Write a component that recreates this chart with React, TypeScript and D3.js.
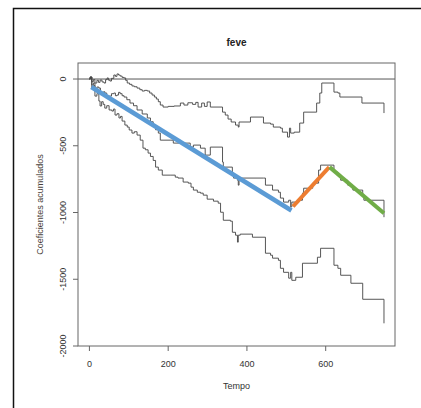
import React from 'react';
import * as d3 from 'd3';

// cumulative coefficients as [tempo, value] steps
const upperSteps: [number, number][] = [
  [0, 0], [2, 15], [6, -20], [10, -5], [14, -30], [19, -10], [23, -25], [27, -8], [32, -22], [37, -30],
  [41, -5], [45, 8], [48, -8], [52, -15], [56, 5], [62, 30], [66, 20], [70, 38], [74, 30], [78, 22],
  [83, 12], [88, 8], [92, -10], [96, -30], [102, -40], [108, -52], [114, -58], [121, -68], [128, -80],
  [134, -90], [140, -85], [147, -90], [153, -105], [159, -120], [165, -135], [170, -150], [175, -170],
  [180, -195], [187, -210], [200, -205], [215, -202], [231, -180], [240, -195], [250, -178], [262, -190],
  [270, -175], [276, -210], [285, -180], [292, -205], [299, -172], [307, -210], [338, -248], [345, -270],
  [352, -300], [360, -322], [371, -345], [378, -360], [380, -322], [409, -285], [439, -285], [442, -330],
  [460, -338], [467, -360], [485, -368], [490, -398], [503, -435], [508, -368], [511, -405], [520, -398],
  [534, -330], [544, -248], [577, -180], [585, -105], [590, -30], [621, -98], [631, -105], [636, -135],
  [692, -180], [748, -255],
];

const middleSteps: [number, number][] = [
  [0, 0], [2, 15], [6, -45], [10, -30], [14, -90], [19, -60], [24, -68], [28, -100], [32, -120], [36, -95],
  [39, -105], [44, -130], [50, -128], [56, -110], [62, -105], [66, -125], [70, -120], [74, -100], [78, -110],
  [83, -125], [88, -135], [95, -155], [103, -180], [112, -200], [121, -232], [134, -262], [147, -292],
  [155, -320], [162, -345], [168, -380], [175, -405], [180, -458], [205, -458], [213, -480], [248, -480],
  [256, -510], [264, -495], [282, -518], [294, -570], [307, -510], [338, -622], [340, -660], [363, -705],
  [366, -742], [376, -758], [378, -795], [380, -742], [442, -742], [447, -795], [465, -832], [480, -848],
  [485, -892], [493, -922], [506, -908], [511, -958], [514, -922], [529, -908], [541, -855], [544, -818],
  [562, -818], [567, -780], [582, -682], [587, -645], [621, -698], [631, -720], [638, -758], [656, -795],
  [669, -832], [694, -870], [697, -908], [748, -1035],
];

const lowerSteps: [number, number][] = [
  [0, 0], [2, 15], [6, -68], [10, -50], [14, -128], [19, -110], [24, -165], [27, -202], [31, -170], [35, -190],
  [39, -218], [44, -200], [50, -232], [57, -240], [61, -225], [65, -270], [70, -260], [75, -292], [79, -280],
  [83, -315], [90, -345], [96, -360], [101, -382], [108, -405], [114, -395], [121, -420], [129, -458],
  [136, -518], [142, -530], [149, -555], [155, -580], [162, -610], [168, -660], [175, -682], [185, -720],
  [205, -720], [218, -735], [225, -742], [238, -772], [251, -780], [258, -810], [264, -832], [274, -848],
  [282, -855], [289, -870], [299, -900], [315, -915], [327, -930], [333, -998], [340, -1058], [358, -1065],
  [363, -1148], [371, -1170], [376, -1222], [378, -1170], [383, -1162], [414, -1185], [447, -1305],
  [460, -1320], [465, -1342], [480, -1358], [485, -1418], [493, -1448], [506, -1492], [511, -1448],
  [514, -1508], [524, -1485], [541, -1380], [579, -1335], [587, -1268], [621, -1395], [631, -1418],
  [638, -1470], [664, -1530], [694, -1650], [748, -1830],
];

// fitted segments
const blueSegment: [number, number][] = [[5, -60], [513, -985]];
const orangeSegment: [number, number][] = [[517, -955], [609, -660]];
const greenSegment: [number, number][] = [[610, -660], [748, -1005]];

const xTicks = [0, 200, 400, 600];
const yTicks = [0, -500, -1000, -1500, -2000];

export default function App() {
  const left = 78, right = 395, top = 63, bottom = 346;
  const x = d3.scaleLinear().domain([-29, 776]).range([left, right]);
  const y = d3.scaleLinear().domain([-2000, 120]).range([bottom, top]);

  const stepLine = d3.line<[number, number]>()
    .x(d => x(d[0]))
    .y(d => y(d[1]))
    .curve(d3.curveStepAfter);
  const straight = d3.line<[number, number]>()
    .x(d => x(d[0]))
    .y(d => y(d[1]));

  const font = 'Liberation Sans, Arial, sans-serif';

  return (
    <svg width={421} height={408} style={{position: 'absolute', left: 0, top: 0, background: 'white'}}>
      <rect x={13.5} y={8.5} width={440} height={440} fill="none" stroke="#111" strokeWidth={1.5}/>
      <text x={(left + right) / 2} y={46} textAnchor="middle" fontFamily={font} fontWeight="bold" fontSize={10} fill="#222">feve</text>

      {/* zero line */}
      <line x1={left} x2={right} y1={y(0)} y2={y(0)} stroke="#555" strokeWidth={1}/>

      {[upperSteps, middleSteps, lowerSteps].map((s, i) => (
        <path key={i} d={stepLine(s) || ''} fill="none" stroke="#444" strokeWidth={0.9}/>
      ))}

      <path d={straight(blueSegment) || ''} stroke="#5B9BD5" strokeWidth={4.5} fill="none"/>
      <path d={straight(orangeSegment) || ''} stroke="#ED7D31" strokeWidth={4} fill="none"/>
      <path d={straight(greenSegment) || ''} stroke="#70AD47" strokeWidth={4} fill="none"/>

      <rect x={left} y={top} width={right - left} height={bottom - top} fill="none" stroke="#666" strokeWidth={1}/>

      {xTicks.map(t => (
        <g key={t}>
          <line x1={x(t)} x2={x(t)} y1={bottom} y2={bottom + 5} stroke="#666"/>
          <text x={x(t)} y={367} textAnchor="middle" fontFamily={font} fontSize={9} fill="#333">{t}</text>
        </g>
      ))}
      {yTicks.map(t => (
        <g key={t}>
          <line x1={left - 5} x2={left} y1={y(t)} y2={y(t)} stroke="#666"/>
          <text transform={`translate(66,${y(t)}) rotate(-90)`} textAnchor="middle" fontFamily={font} fontSize={9} fill="#333">{t}</text>
        </g>
      ))}

      <text x={(left + right) / 2} y={389} textAnchor="middle" fontFamily={font} fontSize={9} fill="#333">Tempo</text>
      <text transform={`translate(43,${(top + bottom) / 2}) rotate(-90)`} textAnchor="middle" fontFamily={font} fontSize={9} fill="#4a3f3a">Coeficientes acumulados</text>
    </svg>
  );
}
